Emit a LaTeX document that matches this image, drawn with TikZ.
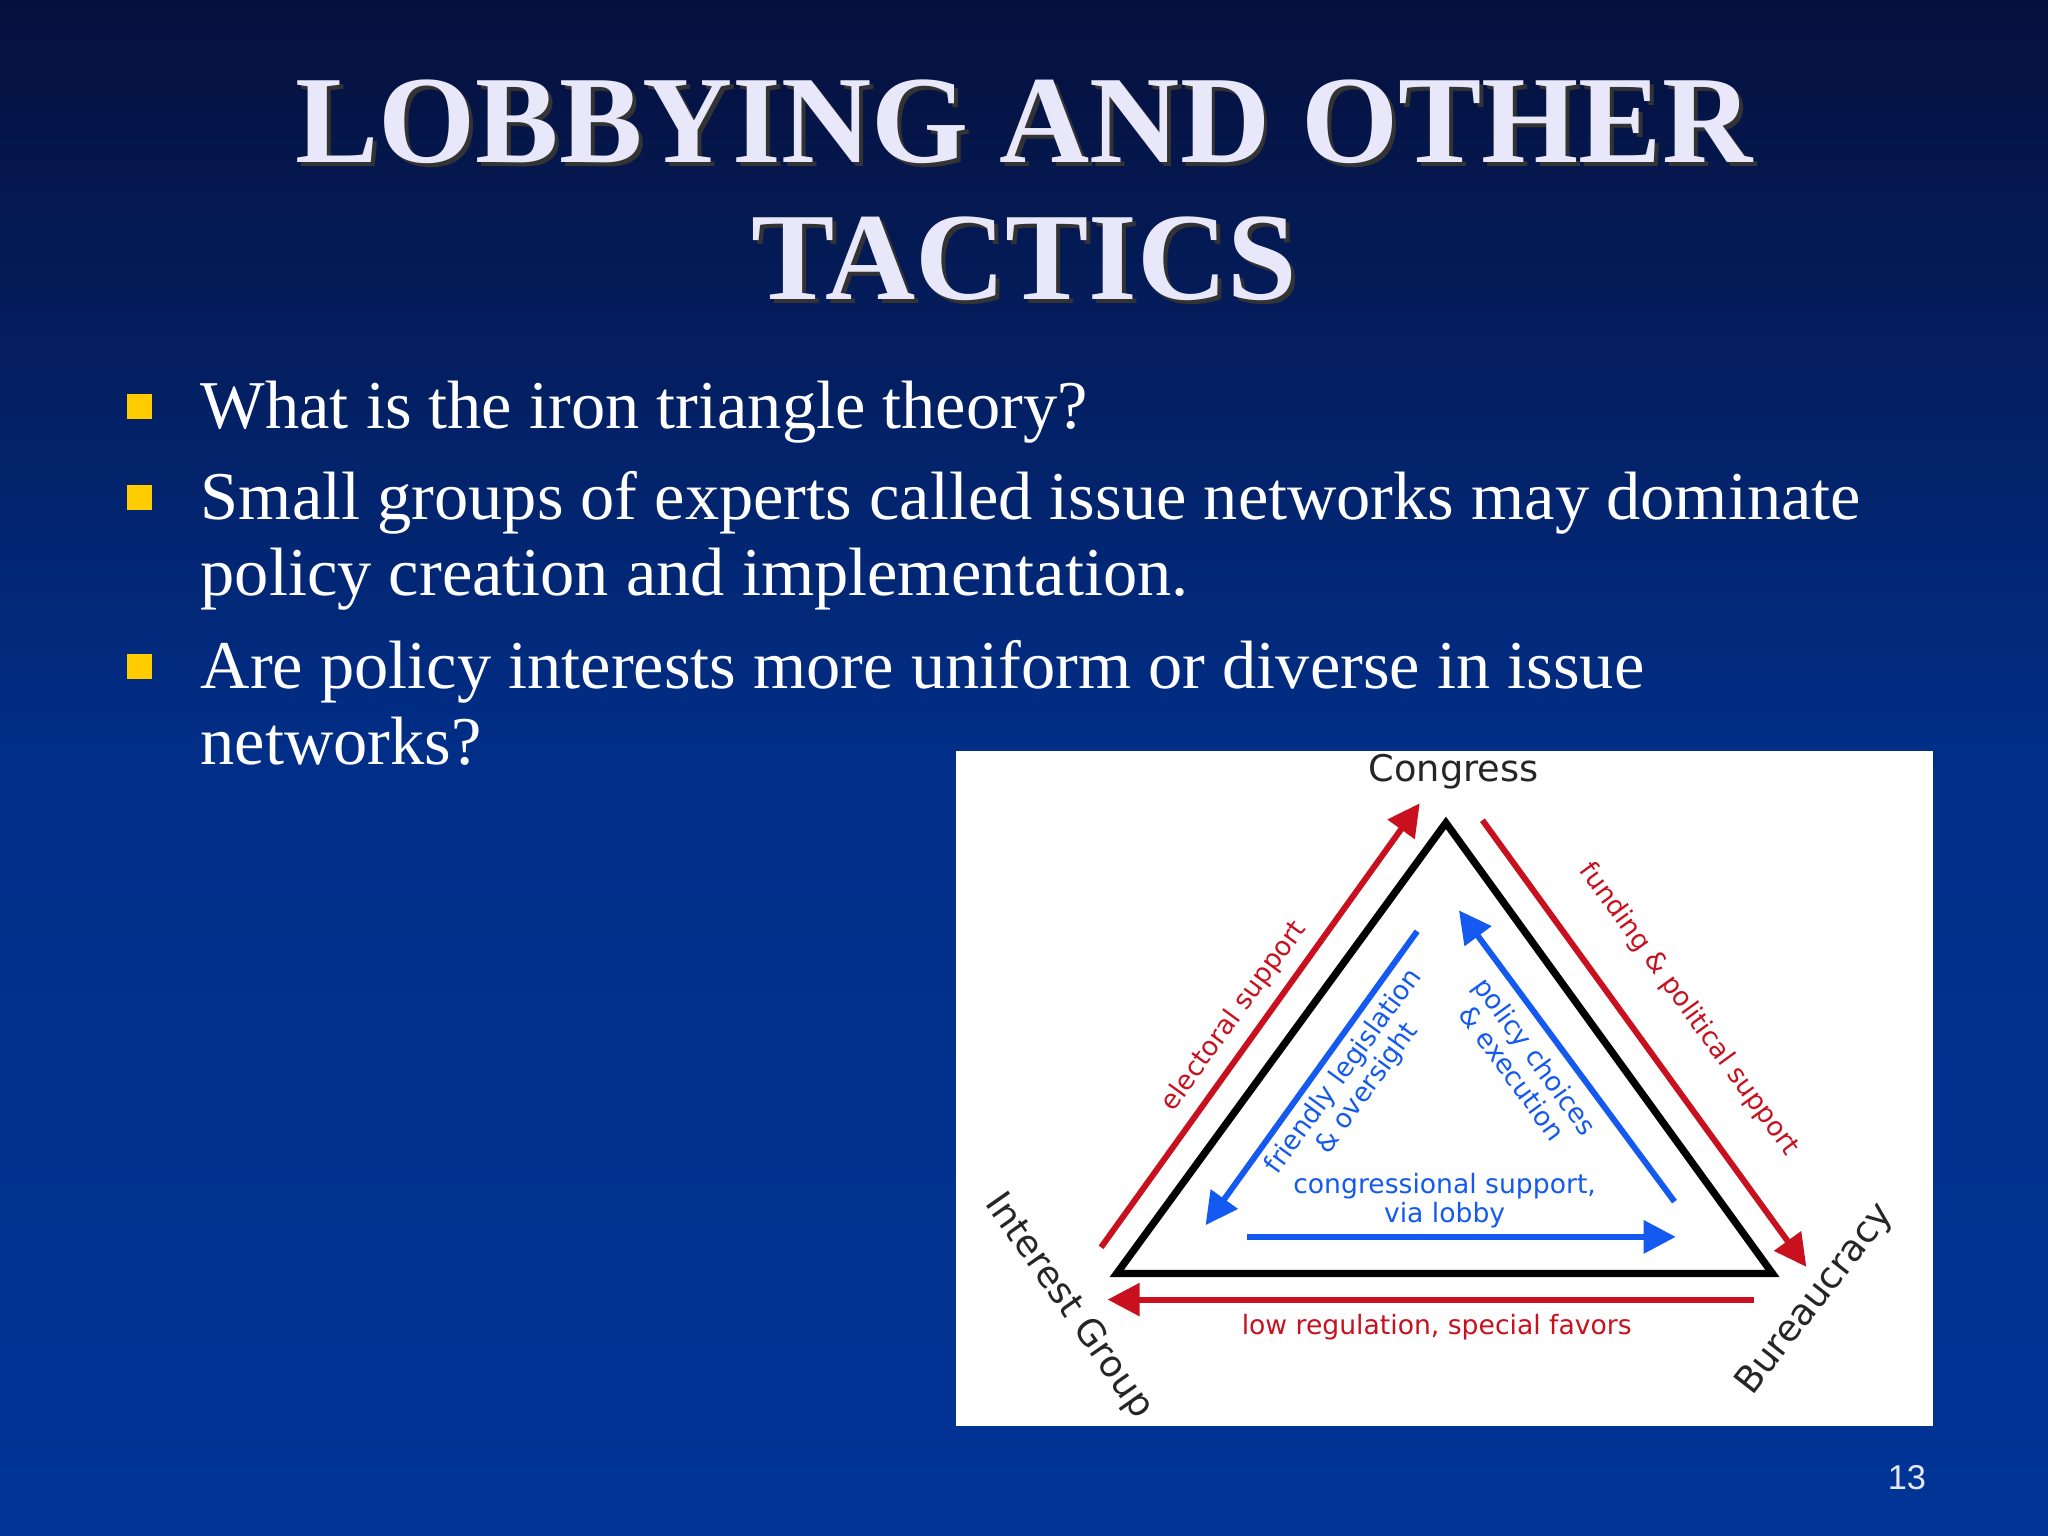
\documentclass[tikz,border=0pt]{standalone}
\usepackage{fontspec}
\setmainfont{Liberation Serif}
\newfontfamily\diag{DejaVu Sans}
\newfontfamily\pgfont{Liberation Sans}
\usetikzlibrary{arrows.meta}
\definecolor{navytop}{RGB}{6,16,60}
\definecolor{bluebot}{RGB}{0,52,150}
\definecolor{titlecol}{RGB}{232,232,250}
\definecolor{bulletcol}{RGB}{255,204,0}
\definecolor{redarr}{RGB}{200,16,30}
\definecolor{bluearr}{RGB}{20,90,240}
\tikzset{
  bullettext/.style={anchor=base west,text=white,font=\fontsize{14.9}{17}\selectfont,inner sep=0pt},
  bulletsq/.style={fill=bulletcol,minimum size=0.19cm,inner sep=0pt},
  titletext/.style={text=titlecol,font=\fontsize{27.2}{30}\selectfont\bfseries,inner sep=0pt},
  shadowtext/.style={text=black!80,font=\fontsize{27.2}{30}\selectfont\bfseries,inner sep=0pt},
  redline/.style={draw=redarr,line width=1.3pt,-{Triangle[length=7pt,width=7pt]}},
  blueline/.style={draw=bluearr,line width=1.3pt,-{Triangle[length=7pt,width=7pt]}},
  redlab/.style={text=redarr,font=\diag\fontsize{5.8}{6.6}\selectfont,align=center,inner sep=0pt},
  bluelab/.style={text=bluearr,font=\diag\fontsize{5.8}{6.3}\selectfont,align=center,inner sep=0pt},
  vertex/.style={text=black!85,font=\diag\fontsize{8}{9}\selectfont,inner sep=0pt}
}
\begin{document}
\begin{tikzpicture}
\useasboundingbox (0,0) rectangle (15.68,-11.76);
\shade[top color=navytop,bottom color=bluebot,middle color=bluebot!85!navytop] (0,0) rectangle (15.68,-11.76);
% title
\node[shadowtext] at (7.87,-0.96) {LOBBYING AND OTHER};
\node[titletext] (t1) at (7.84,-0.93) {LOBBYING AND OTHER};
\node[shadowtext] at (7.87,-2.01) {TACTICS};
\node[titletext] (t2) at (7.84,-1.98) {TACTICS};
% bullets
\node[bulletsq] (b1) at (1.07,-3.11) {};
\node[bullettext] (x1) at (1.53,-3.28) {What is the iron triangle theory?};
\node[bulletsq] (b2) at (1.07,-3.81) {};
\node[bullettext] (x2) at (1.53,-3.98) {Small groups of experts called issue networks may dominate};
\node[bullettext] (x2b) at (1.53,-4.56) {policy creation and implementation.};
\node[bulletsq] (b3) at (1.07,-5.10) {};
\node[bullettext] (x3) at (1.53,-5.27) {Are policy interests more uniform or diverse in issue};
\node[bullettext] (x3b) at (1.53,-5.85) {networks?};
% diagram box
\fill[white] (7.32,-5.75) rectangle (14.80,-10.92);
\coordinate (A) at (11.07,-6.30);
\coordinate (L) at (8.55,-9.75);
\coordinate (R) at (13.57,-9.75);
\draw[line width=1.6pt,line join=miter] (A) -- (L) -- (R) -- cycle;
% red arrows
\coordinate (r1s) at (8.43,-9.55); \coordinate (r1e) at (10.87,-6.15);
\coordinate (r2s) at (11.35,-6.28); \coordinate (r2e) at (13.83,-9.70);
\coordinate (r3s) at (13.43,-9.95); \coordinate (r3e) at (8.48,-9.95);
\draw[redline] (r1s) -- (r1e);
\draw[redline] (r2s) -- (r2e);
\draw[redline] (r3s) -- (r3e);
% blue arrows
\coordinate (u1s) at (10.85,-7.13); \coordinate (u1e) at (9.23,-9.38);
\coordinate (u2s) at (12.82,-9.20); \coordinate (u2e) at (11.17,-6.97);
\coordinate (u3s) at (9.55,-9.47); \coordinate (u3e) at (12.83,-9.47);
\draw[blueline] (u1s) -- (u1e);
\draw[blueline] (u2s) -- (u2e);
\draw[blueline] (u3s) -- (u3e);
% labels
\node[vertex] (cong) at (11.13,-5.91) {Congress};
\node[vertex,rotate=-55] (ig) at (8.18,-10.00) {Interest Group};
\node[vertex,rotate=52] (bur) at (13.90,-9.95) {Bureaucracy};
\node[redlab,rotate=54] (el) at (9.45,-7.78) {electoral support};
\node[redlab,rotate=-54] (fp) at (12.93,-7.73) {funding \& political support};
\node[redlab] (lr) at (11.00,-10.16) {low regulation, special favors};
\node[bluelab,rotate=54] (fl) at (10.38,-8.27) {friendly legislation\\\& oversight};
\node[bluelab,rotate=-54] (pc) at (11.67,-8.15) {policy choices\\\& execution};
\node[bluelab] (cs) at (11.06,-9.19) {congressional support,\\via lobby};
% page number
\node[text=titlecol,font=\pgfont\fontsize{7.5}{9}\selectfont] (pg) at (14.60,-11.31) {13};
\end{tikzpicture}
\end{document}
